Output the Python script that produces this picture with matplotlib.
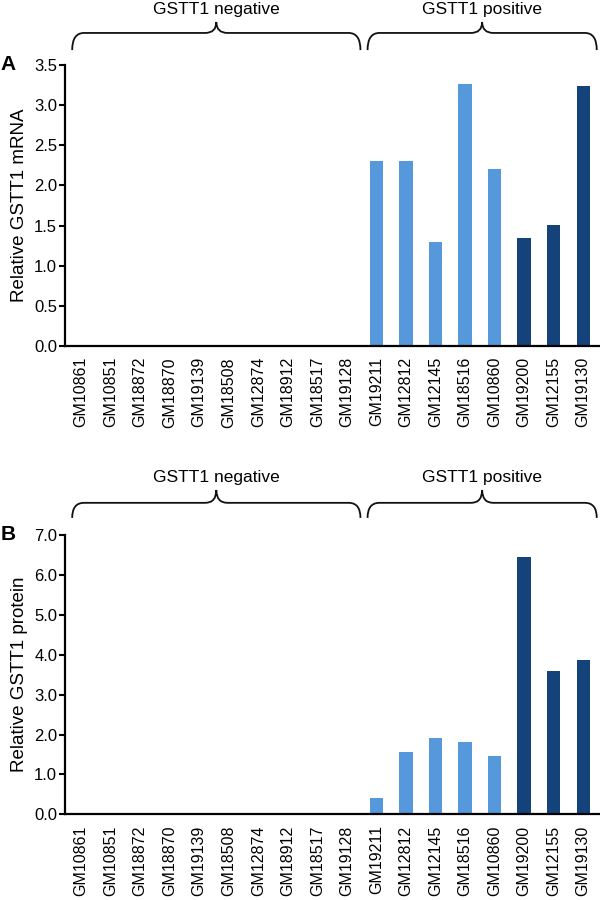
import numpy as np
import matplotlib.pyplot as plt
from matplotlib.path import Path
from matplotlib.patches import PathPatch
import matplotlib.transforms as mtransforms

plt.rcParams['font.family'] = ['Liberation Sans', 'DejaVu Sans']

# data
cells = ['GM10861', 'GM10851', 'GM18872', 'GM18870', 'GM19139', 'GM18508',
         'GM12874', 'GM18912', 'GM18517', 'GM19128', 'GM19211', 'GM12812',
         'GM12145', 'GM18516', 'GM10860', 'GM19200', 'GM12155', 'GM19130']
mrna = [0, 0, 0, 0, 0, 0, 0, 0, 0, 0, 2.30, 2.30, 1.29, 3.26, 2.20, 1.35, 1.51, 3.24]
protein = [0, 0, 0, 0, 0, 0, 0, 0, 0, 0, 0.40, 1.56, 1.92, 1.82, 1.47, 6.46, 3.59, 3.86]
group = ['neg'] * 10 + ['light'] * 5 + ['dark'] * 3
groups = ['GSTT1 negative', 'GSTT1 positive']
group_span = [(0, 9), (10, 17)]

light = '#5599dc'
dark = '#13437a'
colors = [dark if g == 'dark' else light for g in group]


def brace(ax, x0, x1, y_end, y_mid, y_tip, label, y_text):
    # curly brace drawn in data-x / axes-y coords
    tr = mtransforms.blended_transform_factory(ax.transData, ax.transAxes)
    xm = (x0 + x1) / 2
    r = 0.4
    r2 = 0.38
    verts = [(x0, y_end), (x0, y_mid), (x0 + r, y_mid),
             (xm - r2, y_mid), (xm, y_mid), (xm, y_tip),
             (xm, y_mid), (xm + r2, y_mid),
             (x1 - r, y_mid), (x1, y_mid), (x1, y_end)]
    codes = [Path.MOVETO, Path.CURVE3, Path.CURVE3,
             Path.LINETO, Path.CURVE3, Path.CURVE3,
             Path.CURVE3, Path.CURVE3,
             Path.LINETO, Path.CURVE3, Path.CURVE3]
    p = PathPatch(Path(verts, codes), transform=tr, fill=False,
                  lw=1.3, color='#111111', clip_on=False)
    ax.add_patch(p)
    ax.text(xm, y_text, label, transform=tr, ha='center', va='center',
            fontsize=12.5, clip_on=False)


def panel(ax, vals, ymax, step, fmt, ylabel, letter, offs):
    x = np.arange(len(cells))
    ax.bar(x, vals, width=0.45, color=colors)
    ax.set_xlim(-0.55, 17.57)
    ax.set_ylim(0, ymax)
    ticks = np.arange(0, ymax + step / 2, step)
    ax.set_yticks(ticks)
    ax.set_yticklabels([fmt.format(v) for v in ticks])
    ax.set_xticks(x)
    ax.set_xticklabels(cells, rotation=90, fontsize=11.5)
    ax.tick_params(axis='x', length=0, pad=8)
    ax.tick_params(axis='y', length=4, width=1.5, pad=1.5, labelsize=12)
    for s in ['top', 'right']:
        ax.spines[s].set_visible(False)
    for s in ['left', 'bottom']:
        ax.spines[s].set_linewidth(1.6)
    ax.set_ylabel(ylabel, fontsize=13.5, labelpad=4)
    ax.text(-0.12, 1.0, letter, transform=ax.transAxes, fontsize=15,
            fontweight='bold', ha='left', va='center')
    for (a, b), g in zip(group_span, groups):
        brace(ax, a - 0.3, b + 0.46, *offs, g, offs[-1] + 0.043)


fig = plt.figure(figsize=(6, 9), dpi=100)
axA = fig.add_axes([0.108, 0.6156, 0.892, 0.3122])
axB = fig.add_axes([0.108, 0.0952, 0.892, 0.3104])

panel(axA, mrna, 3.5, 0.5, '{:.1f}', 'Relative GSTT1 mRNA', 'A',
      (1.053, 1.114, 1.153))
panel(axB, protein, 7.0, 1.0, '{:.1f}', 'Relative GSTT1 protein', 'B',
      (1.061, 1.115, 1.161))

fig.savefig('out.png', dpi=100)
